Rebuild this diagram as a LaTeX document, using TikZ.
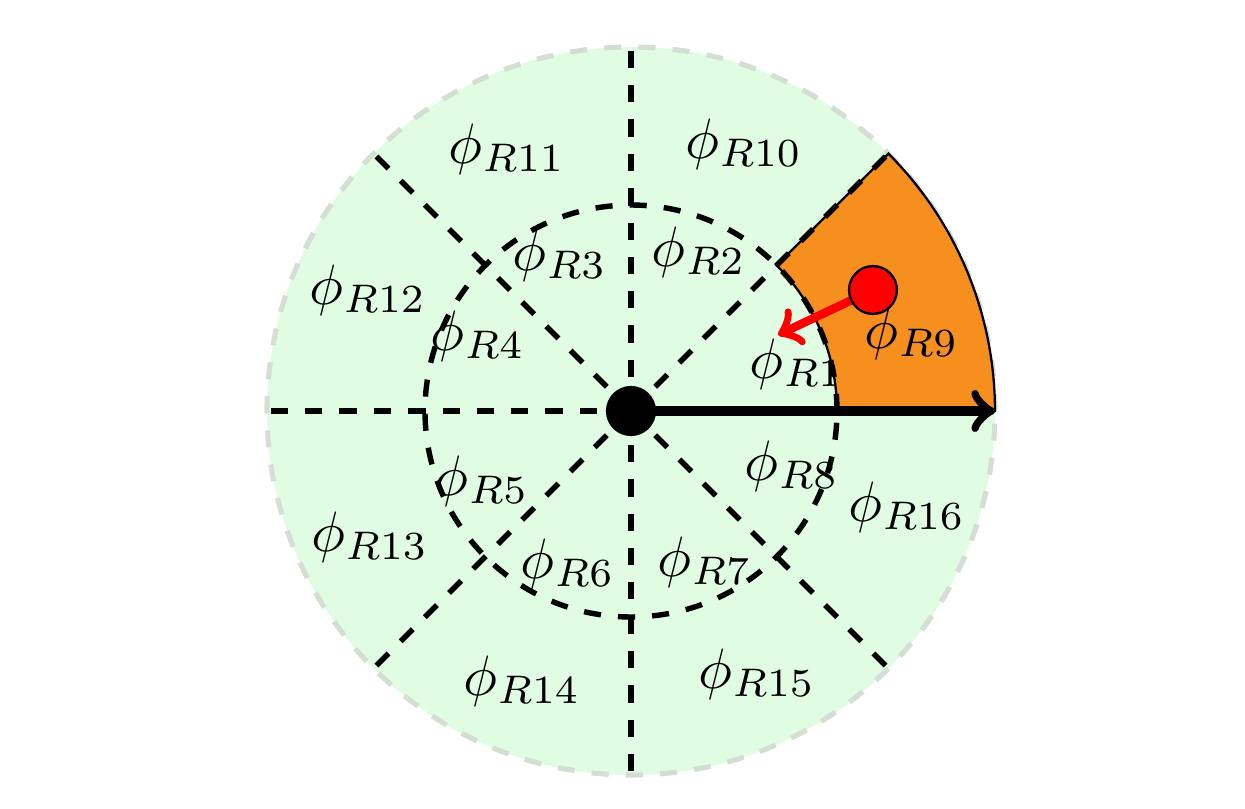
\documentclass[tikz,border=0pt]{standalone}
\definecolor{bgreen}{RGB}{224,252,226}
\definecolor{borange}{RGB}{247,143,30}
\definecolor{rimgray}{RGB}{212,222,212}
\begin{document}
\begin{tikzpicture}[x=0.1754pt,y=0.1754pt,
  sectorline/.style={dashed,line width=0.95pt,black},
  rim/.style={dashed,line width=0.9pt,rimgray},
  lab/.style={inner sep=1pt,font=\normalsize}]
\useasboundingbox (-631,-398) rectangle (614,411);
\fill[bgreen] (0,0) circle (364);
\draw[rim] (0,0) circle (364);
% labels below the orange sector
\node[lab] (l1) at (166,47) {$\phi_{R1}$};
% orange sector
\filldraw[fill=borange,draw=black,line width=0.4pt] (0:206) arc (0:45:206) -- (45:364) arc (45:0:364) -- cycle;
% dashed structure
\draw[sectorline] (0,0) circle (206);
\foreach \a in {45,90,...,360}{
  \draw[sectorline] (0,0) -- (\a:206);
  \draw[sectorline] (\a:206) -- (\a:364);
}
% labels
\node[lab] (l2) at (68,159) {$\phi_{R2}$};
\node[lab] (l3) at (-71,155) {$\phi_{R3}$};
\node[lab] (l4) at (-153,75) {$\phi_{R4}$};
\node[lab] (l5) at (-149,-70) {$\phi_{R5}$};
\node[lab] (l6) at (-63,-153) {$\phi_{R6}$};
\node[lab] (l7) at (74,-151) {$\phi_{R7}$};
\node[lab] (l8) at (161,-55) {$\phi_{R8}$};
\node[lab] (l9) at (281,77) {$\phi_{R9}$};
\node[lab] (l10) at (113,267) {$\phi_{R10}$};
\node[lab] (l11) at (-124,262) {$\phi_{R11}$};
\node[lab] (l12) at (-263,121) {$\phi_{R12}$};
\node[lab] (l13) at (-261,-126) {$\phi_{R13}$};
\node[lab] (l14) at (-109,-270) {$\phi_{R14}$};
\node[lab] (l15) at (126,-263) {$\phi_{R15}$};
\node[lab] (l16) at (276,-96) {$\phi_{R16}$};
% center and main arrow
\node[circle,fill=black,inner sep=0pt,minimum size=8.8pt] (c) at (0,0) {};
\coordinate (rimpt) at (364,0);
\draw[->,line width=1.6pt] (c.center) -- (rimpt);
% red point and arrow
\coordinate (rdc) at (242,121);
\coordinate (rtip) at (147,76);
\draw[->,red,line width=1.5pt] (rdc) -- (rtip);
\node[circle,fill=red,draw=black,line width=0.4pt,inner sep=0pt,minimum size=8.4pt] (rd) at (rdc) {};
\end{tikzpicture}
\end{document}
